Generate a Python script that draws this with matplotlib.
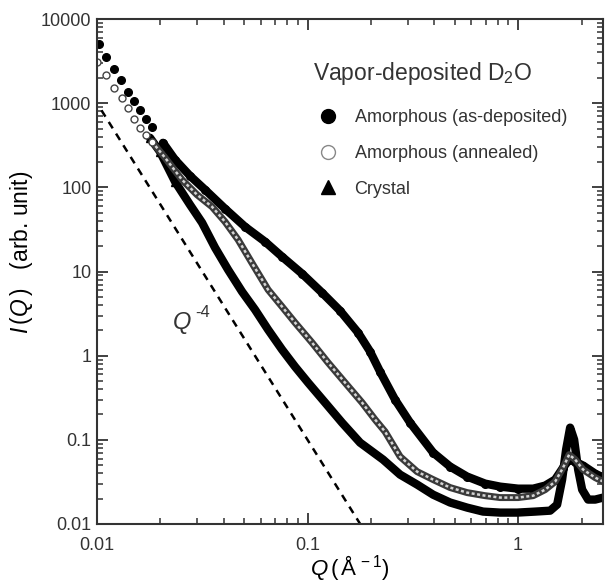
import matplotlib
matplotlib.use("Agg")
import matplotlib.pyplot as plt
from matplotlib.lines import Line2D

# as-deposited amorphous (filled circles)
q_dep = [0.01022, 0.01104, 0.01204, 0.0130, 0.01404, 0.01499, 0.0160, 0.01709,
         0.01825, 0.02058, 0.02347, 0.02765, 0.0326, 0.04056, 0.05048, 0.06283,
         0.07567, 0.09417, 0.1172, 0.1427, 0.1737, 0.1981, 0.221, 0.2604,
         0.3069, 0.3948, 0.4753, 0.5725, 0.6969, 0.8214, 1.0, 1.179, 1.344,
         1.499, 1.636, 1.747, 1.866, 2.036, 2.322, 2.534]
i_dep = [5080, 3557, 2563, 1897, 1366, 1068, 835, 653,
         524, 338, 213, 137, 93.6, 55.7, 34.0, 22.6,
         15.0, 9.42, 5.60, 3.42, 1.88, 1.12, 0.646, 0.300,
         0.160, 0.0705, 0.0481, 0.0366, 0.0302, 0.0278, 0.0263, 0.0263, 0.0286,
         0.0337, 0.0468, 0.0582, 0.0551, 0.0494, 0.0397, 0.0356]

# annealed amorphous (open circles)
q_ann = [0.0100, 0.01104, 0.01204, 0.01315, 0.01404, 0.01499, 0.0160, 0.01709,
         0.01825, 0.02104, 0.02534, 0.02986, 0.03518, 0.04056, 0.04677, 0.0551,
         0.06493, 0.07567, 0.0872, 0.105, 0.1252, 0.1507, 0.1815, 0.2093,
         0.2335, 0.2751, 0.3313, 0.3948, 0.4753, 0.5725, 0.6969, 0.8214, 1.0,
         1.179, 1.344, 1.499, 1.636, 1.747, 1.866, 2.036, 2.322, 2.534]
i_ann = [3102, 2175, 1524, 1159, 882, 653, 510, 421,
         348, 225, 123, 81.7, 58.8, 39.0, 23.9, 12.0,
         6.08, 3.82, 2.47, 1.43, 0.826, 0.478, 0.277, 0.174,
         0.125, 0.0632, 0.0419, 0.0337, 0.0271, 0.0236, 0.0217, 0.0206, 0.0206,
         0.0217, 0.0256, 0.0319, 0.0468, 0.0667, 0.0582, 0.0443, 0.0356, 0.0319]

# crystal (triangles)
q_cry = [0.01785, 0.01992, 0.02347, 0.02765, 0.03155, 0.03636, 0.04193, 0.04885,
         0.0563, 0.06493, 0.07567, 0.0872, 0.1006, 0.1211, 0.1458, 0.1776,
         0.2284, 0.2751, 0.3313, 0.3948, 0.4753, 0.5725, 0.6818, 0.8214,
         0.9891, 1.205, 1.419, 1.532, 1.618, 1.690, 1.766, 1.845, 1.928,
         2.014, 2.150, 2.322, 2.534]
i_cry = [388, 265, 117, 62.1, 38.0, 19.2, 10.5, 5.76,
         3.52, 2.04, 1.18, 0.740, 0.478, 0.277, 0.160, 0.0926,
         0.0582, 0.0386, 0.0294, 0.0223, 0.0180, 0.01566, 0.01404, 0.01366,
         0.01366, 0.01404, 0.0144, 0.0170, 0.0337, 0.0765, 0.1396, 0.1006, 0.0443,
         0.0256, 0.0195, 0.0195, 0.0206]

# Q^-4 guide line
q_guide = [0.0105, 0.178]
guide_amp = 1e-5

legend_title = r"Vapor-deposited D$_2$O"
labels = ["Amorphous (as-deposited)", "Amorphous (annealed)", "Crystal"]

INK = "#333333"
plt.rcParams["font.family"] = ["Liberation Sans", "DejaVu Sans"]
plt.rcParams["mathtext.fontset"] = "custom"
plt.rcParams["mathtext.rm"] = "Liberation Sans"
plt.rcParams["mathtext.it"] = "Liberation Sans:italic"
plt.rcParams["text.color"] = INK

fig = plt.figure(figsize=(6.05, 5.83), dpi=100)
ax = fig.add_axes([97 / 605, 1 - 524 / 583, 506 / 605, 505 / 583])

n0 = 9  # sparse points before the data get dense
ax.plot(q_guide, [guide_amp * q ** -4 for q in q_guide], ls=(0, (3, 2.5)),
        color="black", lw=1.8)

ax.plot(q_dep[n0:], i_dep[n0:], color="black", lw=6, solid_capstyle="round")
ax.plot(q_dep, i_dep, "o", color="black", ms=5.5)

ax.plot(q_cry, i_cry, color="black", lw=6, solid_capstyle="round")
ax.plot(q_cry[:3], i_cry[:3], "^", color="black", ms=6)

ax.plot(q_ann[n0 - 1:], i_ann[n0 - 1:], color="#3a3a3a", lw=5,
        solid_capstyle="round")
ax.plot(q_ann[n0 - 1:], i_ann[n0 - 1:], color="#d4d4d4", lw=1.8,
        ls=(0, (1.2, 1.0)))
ax.plot(q_ann[:n0], i_ann[:n0], "o", mfc="white", mec="#444444", mew=1.0, ms=5)

ax.set_xscale("log")
ax.set_yscale("log")
ax.set_xlim(0.01, 2.53)
ax.set_ylim(0.01, 10000)
ax.set_xticks([0.01, 0.1, 1])
ax.set_xticklabels(["0.01", "0.1", "1"])
ax.set_yticks([0.01, 0.1, 1, 10, 100, 1000, 10000])
ax.set_yticklabels(["0.01", "0.1", "1", "10", "100", "1000", "10000"])

for side in ax.spines.values():
    side.set_linewidth(1.5)
    side.set_color(INK)
ax.tick_params(which="both", direction="in", top=True, right=True, colors=INK,
               labelsize=13)
ax.tick_params(which="major", length=8, width=1.3)
ax.tick_params(which="minor", length=4.5, width=1.1)
ax.tick_params(axis="x", pad=9)
ax.tick_params(axis="y", pad=4)

ax.set_xlabel(r"$Q\,(\,\mathrm{\AA}^{\,-1})$", fontsize=16, labelpad=0)
ax.set_ylabel(r"$I\,(Q\,)$   (arb. unit)", fontsize=16.5)
ax.yaxis.set_label_coords(-0.122, 0.537)

ax.text(0.0252, 2.47, r"$Q$", fontsize=17, ha="center", va="center")
ax.text(0.0292, 3.3, "-4", fontsize=12, ha="left", va="center")

ax.text(0.427, 0.893, legend_title, transform=ax.transAxes, fontsize=16.5,
        ha="left", va="center")
handles = [
    Line2D([], [], ls="", marker="o", color="black", ms=10),
    Line2D([], [], ls="", marker="o", mfc="white", mec="#888888", mew=1.0, ms=10),
    Line2D([], [], ls="", marker="^", color="black", ms=10),
]
leg = ax.legend(handles, labels, loc="upper left", bbox_to_anchor=(0.427, 0.822),
                frameon=False, fontsize=13, handlelength=1.6,
                handletextpad=0.7, labelspacing=1.05, borderpad=0,
                borderaxespad=0)
for t in leg.get_texts():
    t.set_color(INK)

fig.savefig("out.png", dpi=100)
